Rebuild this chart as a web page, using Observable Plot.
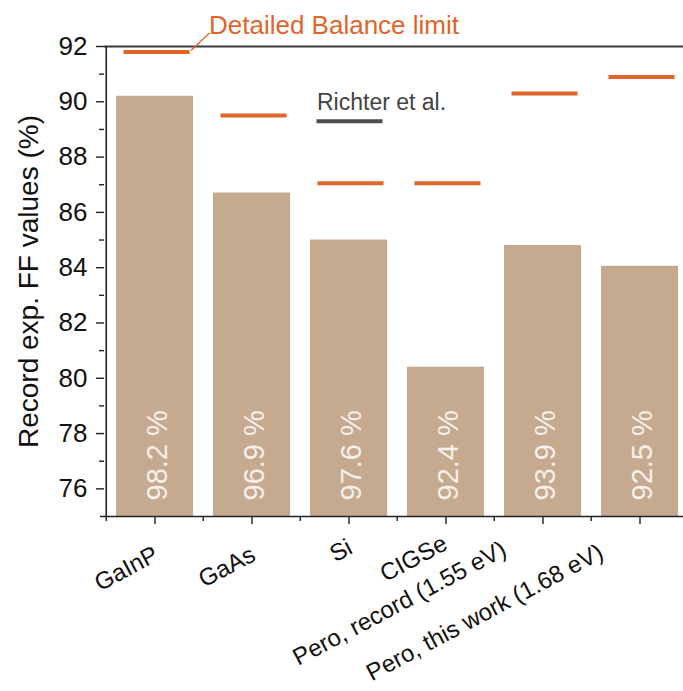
<!DOCTYPE html>
<html><head><meta charset="utf-8">
<script src="https://cdn.jsdelivr.net/npm/d3@7"></script>
<script src="https://cdn.jsdelivr.net/npm/@observablehq/plot@0.6"></script>
<style>
body{margin:0;background:#fff;}
#chart svg{font-family:"Liberation Sans",Arial,sans-serif;}
</style></head><body><div id="chart"></div>
<script>
const categories = ["GaInP","GaAs","Si","CIGSe","Pero, record (1.55 eV)","Pero, this work (1.68 eV)"];
const recordFF = [90.2, 86.7, 85.0, 80.4, 84.8, 84.05];
const detailedBalance = [91.8, 89.5, 87.05, 87.05, 90.3, 90.9];
const ratioLabels = ["98.2 %","96.9 %","97.6 %","92.4 %","93.9 %","92.5 %"];
const richterCategory = ["Si"];
const richterValue = [89.3];
const richterText = "Richter et al.";
const limitText = "Detailed Balance limit";
const yLabel = "Record exp. FF values (%)";
const yMajorTicks = [76,78,80,82,84,86,88,90,92];
const yMinorTicks = [77,79,81,83,85,87,89,91];

const rows = categories.map((c,i)=>({cat:c, ff:recordFF[i], db:detailedBalance[i], ratio:ratioLabels[i]}));
const richter = richterCategory.map((c,i)=>({cat:c, v:richterValue[i]}));

const barColor = "#c5aa8f";
const orange = "#e0652b";
const axisColor = "#222";

const xLabelStyle = {x: d => d, y: () => 75, text: d => d, rotate: -28, textAnchor: "end", lineAnchor: "bottom", fontSize: 24, fill: "#111"};

const chart = Plot.plot({
  width: 683, height: 691,
  marginTop: 46, marginBottom: 175, marginLeft: 104, marginRight: 0,
  style: {fontFamily: '"Liberation Sans", Arial, sans-serif', background: "#fff", overflow: "visible"},
  x: {domain: categories, range: [104, 689], paddingInner: 0.21, paddingOuter: 0.105, axis: null},
  y: {domain: [75, 92], axis: null},
  marks: [
    Plot.barY(rows, {x: "cat", y1: 75, y2: "ff", fill: barColor}),
    Plot.text(rows, {x: "cat", y: 75, text: "ratio", rotate: -90, textAnchor: "start", lineAnchor: "middle",
      dy: -16, dx: 3, fontSize: 29, fill: "#f6f0ea"}),
    Plot.tickY(rows, {x: "cat", y: "db", stroke: orange, strokeWidth: 4, inset: 5.5, dx: 2}),
    Plot.tickY(richter, {x: "cat", y: "v", stroke: "#4d4d4d", strokeWidth: 4, inset: 5.5, dx: 1}),
    Plot.text(richter, {x: "cat", y: "v", text: () => richterText, textAnchor: "start", lineAnchor: "bottom",
      dx: -32, dy: -11, fontSize: 23, fill: "#444"}),
    Plot.text([categories[0]], {x: d => d, y: () => 92, text: () => limitText, textAnchor: "start", lineAnchor: "bottom",
      dx: 54, dy: -13, fontSize: 26, fill: orange}),
    // frame lines
    Plot.ruleY([92], {stroke: "#3a3a3a", strokeWidth: 2}),
    Plot.ruleY([75], {stroke: axisColor, strokeWidth: 1.6, insetLeft: -4}),
    Plot.ruleX([categories[0]], {x: d => d, y1: 75, y2: 92, dx: -48.75, stroke: axisColor, strokeWidth: 1.6}),
    // y axis
    Plot.axisY({ticks: yMajorTicks, tickSize: 8, tickPadding: 9, fontSize: 26, label: null, stroke: axisColor, strokeWidth: 1.4, color: "#111"}),
    Plot.axisY({ticks: yMinorTicks, tickSize: 5, tickFormat: () => "", label: null, stroke: axisColor, strokeWidth: 1.4}),
    // x axis ticks
    Plot.axisX({ticks: categories, tickSize: 8, tickFormat: () => "", label: null, stroke: axisColor, strokeWidth: 1.4}),
    Plot.axisX({ticks: categories, tickSize: 5, tickFormat: () => "", label: null, stroke: axisColor, strokeWidth: 1.4, dx: -48.75}),
    // x labels
    Plot.text(categories.slice(0, 2), {...xLabelStyle, dx: 5, dy: 43}),
    Plot.text(categories.slice(2, 3), {...xLabelStyle, dx: 5, dy: 36}),
    Plot.text(categories.slice(3, 4), {...xLabelStyle, dx: 3, dy: 32}),
    Plot.text(categories.slice(4, 5), {...xLabelStyle, dx: -35, dy: 38}),
    Plot.text(categories.slice(5, 6), {...xLabelStyle, dx: -35, dy: 41}),
    // y label
    Plot.text([yLabel], {frameAnchor: "left", text: d => d, rotate: -90, textAnchor: "middle", lineAnchor: "bottom", dx: -67, fontSize: 28, fill: "#111"})
  ]
});

// leader line from the GaInP limit dash to the annotation text
const sx = chart.scale("x"), sy = chart.scale("y");
const x0 = sx.apply(categories[0]);
const svg = d3.select(chart.tagName.toLowerCase() === "svg" ? chart : chart.querySelector("svg"));
svg.append("line")
  .attr("x1", x0 + sx.bandwidth - 2).attr("y1", sy.apply(detailedBalance[0]) - 1)
  .attr("x2", x0 + sx.bandwidth / 2 + 55).attr("y2", sy.apply(92) - 13)
  .attr("stroke", orange).attr("stroke-width", 1.3);

document.getElementById("chart").appendChild(chart);
</script></body></html>
